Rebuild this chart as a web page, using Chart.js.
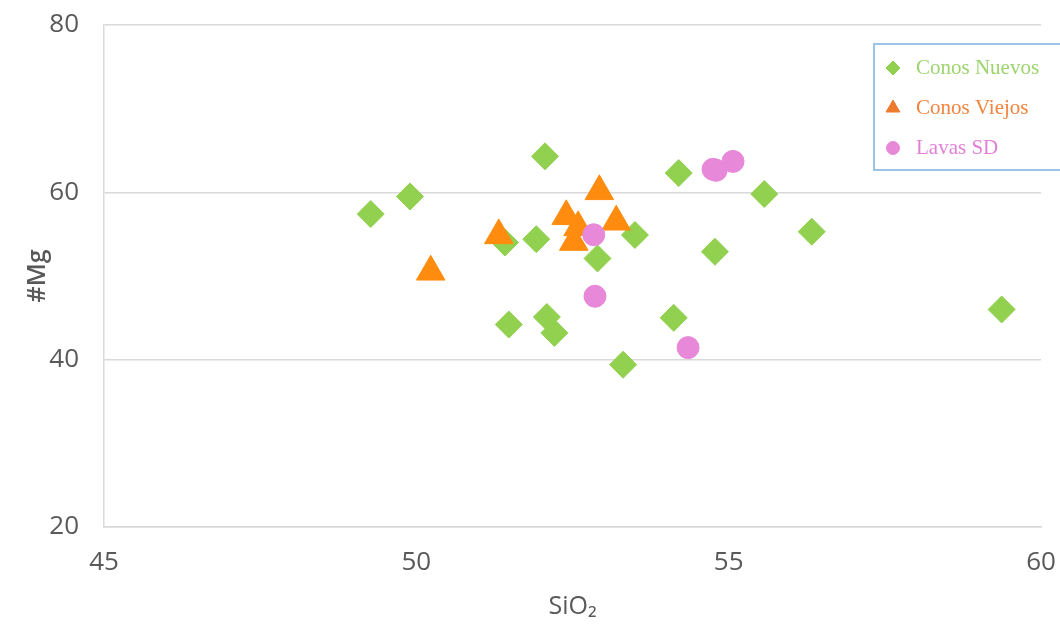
<!DOCTYPE html>
<html lang="es">
<head>
    <meta charset="UTF-8">
    <title>#Mg vs SiO2</title>
    <style>
        body {
            margin: 0;
            padding: 0;
            background-color: #ffffff;
        }
        .chart-box {
            width: 1060px;
            height: 625px;
        }
    </style>
    <script src="https://cdn.jsdelivr.net/npm/chart.js"></script>
</head>
<body>
    <div class="chart-box">
        <canvas id="mgChart"></canvas>
    </div>

    <script>
        // datos
        const seriesNames = ['Conos Nuevos', 'Conos Viejos', 'Lavas SD'];

        const nuevosSiO2 = [49.27, 49.90, 52.06, 51.42, 51.92, 54.20, 55.57, 56.33, 53.50, 52.90, 54.78, 51.48, 52.09, 52.21, 53.31, 54.12, 59.37];
        const nuevosMg   = [57.4, 59.5, 64.3, 54.0, 54.4, 62.3, 59.8, 55.3, 54.9, 52.1, 52.9, 44.2, 45.1, 43.2, 39.4, 45.0, 46.0];

        const viejosSiO2 = [50.23, 51.32, 52.40, 52.59, 52.52, 52.93, 53.20];
        const viejosMg   = [50.5, 54.85, 57.13, 55.81, 54.06, 60.12, 56.48];

        const lavasSiO2 = [52.84, 52.86, 54.35, 54.75, 54.80, 55.07];
        const lavasMg   = [54.93, 47.58, 41.44, 62.75, 62.63, 63.7];

        const xTicks = [45, 50, 55, 60];
        const yTicks = [20, 40, 60, 80];

        function toPoints(xs, ys) {
            return xs.map((x, i) => ({ x: x, y: ys[i] }));
        }

        const greenColor = '#92D050';
        const orangeColor = '#FF8C0F';
        const pinkColor = '#E888D8';

        // leyenda dibujada dentro del area, con recuadro azul
        const boxLegend = {
            id: 'boxLegend',
            afterDraw(chart) {
                const ctx = chart.ctx;
                const items = [
                    { style: 'rectRot', r: 7, color: greenColor, text: '#9CD46E' },
                    { style: 'triangle', r: 8, color: '#EE7A2E', text: '#F0843E' },
                    { style: 'circle', r: 6.5, color: pinkColor, text: '#E47FD6' }
                ];
                ctx.save();
                ctx.fillStyle = '#ffffff';
                ctx.fillRect(874, 44, 190, 126);
                ctx.strokeStyle = '#9DC3E6';
                ctx.lineWidth = 2;
                ctx.strokeRect(874, 44, 200, 126);
                ctx.font = '21px "Liberation Serif", serif';
                ctx.textBaseline = 'middle';
                items.forEach((it, i) => {
                    const y = 68 + i * 40;
                    ctx.fillStyle = it.color;
                    ctx.strokeStyle = it.color;
                    ctx.lineWidth = 1;
                    Chart.helpers.drawPoint(ctx, { pointStyle: it.style, radius: it.r, borderWidth: 1 }, 893, y);
                    ctx.fillStyle = it.text;
                    ctx.fillText(seriesNames[i], 916, y);
                });
                ctx.restore();
            }
        };

        const ctx = document.getElementById('mgChart').getContext('2d');
        const mgChart = new Chart(ctx, {
            type: 'scatter',
            data: {
                datasets: [
                    {
                        label: seriesNames[0],
                        data: toPoints(nuevosSiO2, nuevosMg),
                        pointStyle: 'rectRot',
                        pointRadius: 13.5,
                        backgroundColor: greenColor,
                        borderColor: greenColor,
                        borderWidth: 1,
                        order: 3
                    },
                    {
                        label: seriesNames[1],
                        data: toPoints(viejosSiO2, viejosMg),
                        pointStyle: 'triangle',
                        pointRadius: 16.5,
                        backgroundColor: orangeColor,
                        borderColor: orangeColor,
                        borderWidth: 1,
                        order: 2
                    },
                    {
                        label: seriesNames[2],
                        data: toPoints(lavasSiO2, lavasMg),
                        pointStyle: 'circle',
                        pointRadius: 11,
                        backgroundColor: pinkColor,
                        borderColor: pinkColor,
                        borderWidth: 1,
                        order: 1
                    }
                ]
            },
            options: {
                responsive: true,
                maintainAspectRatio: false,
                animation: false,
                layout: {
                    padding: { top: 25, right: 19, bottom: 0, left: 0 }
                },
                plugins: {
                    legend: { display: false },
                    tooltip: { enabled: false }
                },
                scales: {
                    x: {
                        type: 'linear',
                        min: 45,
                        max: 60,
                        afterFit: (scale) => {
                            scale.height = 98;
                            scale.paddingLeft = 0;
                            scale.paddingRight = 0;
                        },
                        afterBuildTicks: (scale) => { scale.ticks = xTicks.map(v => ({ value: v })); },
                        grid: { display: false, drawTicks: false },
                        border: { display: true, color: '#D9D9D9', width: 1.5 },
                        ticks: {
                            color: '#595959',
                            font: { family: '"Open Sans"', size: 26 },
                            padding: 20
                        },
                        title: {
                            display: true,
                            text: 'SiO₂',
                            color: '#595959',
                            font: { family: '"Open Sans"', size: 25 },
                            padding: { top: 0, bottom: 3 }
                        }
                    },
                    y: {
                        type: 'linear',
                        min: 20,
                        max: 80,
                        afterFit: (scale) => {
                            scale.width = 104;
                            scale.paddingTop = 0;
                            scale.paddingBottom = 0;
                        },
                        afterBuildTicks: (scale) => { scale.ticks = yTicks.map(v => ({ value: v })); },
                        grid: { color: '#D9D9D9', lineWidth: 1.5, drawTicks: false },
                        border: { display: true, color: '#D9D9D9', width: 1.5 },
                        ticks: {
                            color: '#595959',
                            font: { family: '"Open Sans"', size: 26 },
                            padding: 25
                        },
                        title: {
                            display: true,
                            text: '#Mg',
                            color: '#595959',
                            font: { family: '"Open Sans"', size: 25, weight: '600' },
                            padding: { top: 23, bottom: 0 }
                        }
                    }
                }
            },
            plugins: [boxLegend]
        });
    </script>
</body>
</html>
